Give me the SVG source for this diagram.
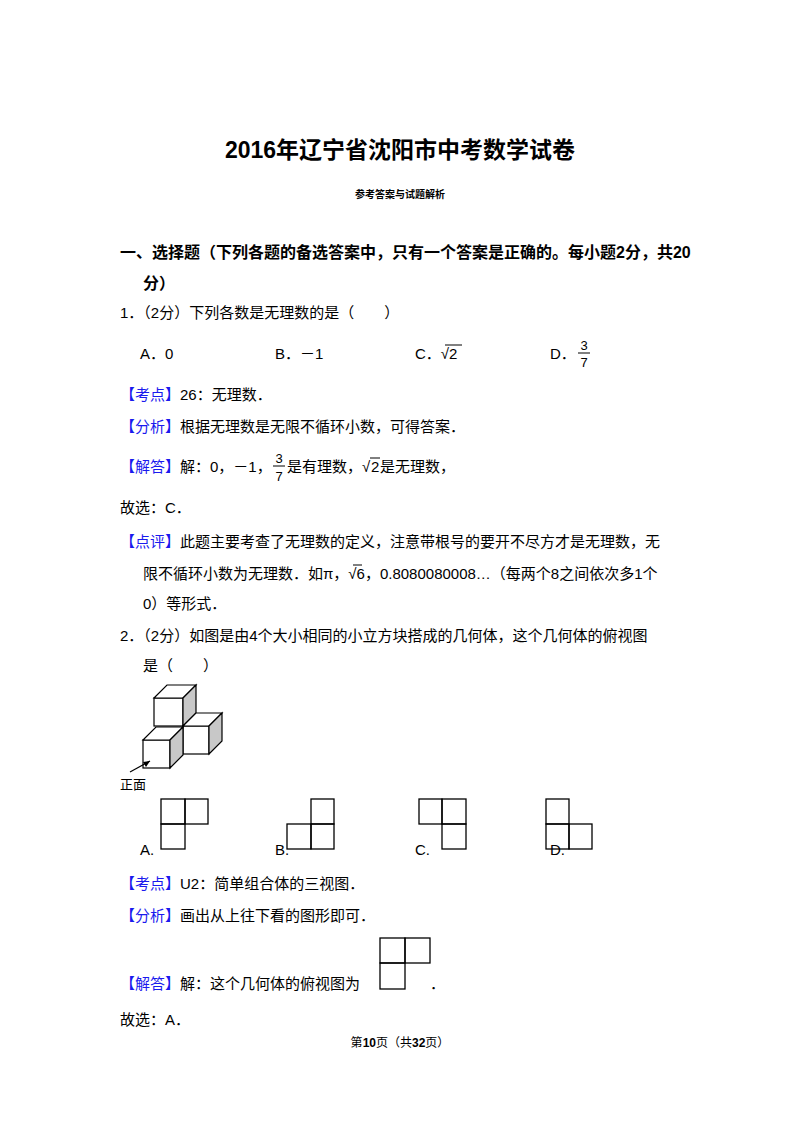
<svg xmlns="http://www.w3.org/2000/svg" width="800" height="1132" viewBox="0 0 800 1132">
<style>
text{font-family:"Liberation Sans","Noto Sans CJK SC",sans-serif;fill:#000}
.t{font-size:15px}
.b{fill:#1a1aee}
.f{fill:none;stroke:#000;stroke-width:1.3}
.sh{fill:#c8c8c8;stroke:#000;stroke-width:1.2}
.w{fill:#fff;stroke:#000;stroke-width:1.2}
</style>
<rect width="800" height="1132" fill="#fff"/>
<text x="400" y="158" font-size="23" font-weight="bold" text-anchor="middle">2016年辽宁省沈阳市中考数学试卷</text>
<text x="400" y="198" font-size="10" font-weight="bold" text-anchor="middle">参考答案与试题解析</text>
<text x="120" y="258" font-size="16" font-weight="bold">一、选择题（下列各题的备选答案中，只有一个答案是正确的。每小题2分，共20</text>
<text x="143" y="289" font-size="16" font-weight="bold">分）</text>
<text class="t" x="120" y="318">1．（2分）下列各数是无理数的是（　　）</text>
<text class="t" x="140" y="359">A．0</text>
<text class="t" x="275" y="359">B．－1</text>
<text class="t" x="415" y="359">C．√2</text>
<line x1="445" y1="345" x2="462" y2="345" stroke="#000"/>
<text class="t" x="550" y="359">D．</text>
<text x="584" y="350" font-size="13" text-anchor="middle">3</text>
<line x1="578" y1="353" x2="590" y2="353" stroke="#000"/>
<text x="584" y="367" font-size="13" text-anchor="middle">7</text>
<text class="t" x="120" y="400"><tspan class="b">【考点】</tspan>26：无理数．</text>
<text class="t" x="120" y="432"><tspan class="b">【分析】</tspan>根据无理数是无限不循环小数，可得答案．</text>
<text class="t" x="120" y="472"><tspan class="b">【解答】</tspan>解：0，－1，</text>
<text x="279" y="463" font-size="13" text-anchor="middle">3</text>
<line x1="273" y1="466" x2="285" y2="466" stroke="#000"/>
<text x="279" y="481" font-size="13" text-anchor="middle">7</text>
<text class="t" x="287" y="472">是有理数，</text>
<text class="t" x="362" y="472">√</text>
<text class="t" x="371" y="472">2</text>
<line x1="370" y1="458" x2="380" y2="458" stroke="#000"/>
<text class="t" x="380" y="472">是无理数，</text>
<text class="t" x="120" y="513">故选：C．</text>
<text class="t" x="120" y="547"><tspan class="b">【点评】</tspan>此题主要考查了无理数的定义，注意带根号的要开不尽方才是无理数，无</text>
<text class="t" x="143" y="579">限不循环小数为无理数．如π，√6，0.8080080008…（每两个8之间依次多1个</text>
<line x1="353" y1="565" x2="362" y2="565" stroke="#000"/>
<text class="t" x="143" y="609">0）等形式．</text>
<text class="t" x="120" y="641">2．（2分）如图是由4个大小相同的小立方块搭成的几何体，这个几何体的俯视图</text>
<text class="t" x="143" y="671">是（　　）</text>
<g id="cubes">
<rect class="w" x="154" y="698" width="29" height="28"/>
<polygon class="w" points="154,698 167,685 196,685 183,698"/>
<polygon class="sh" points="183,698 196,685 196,713 183,726"/>
<rect class="w" x="183" y="726" width="26" height="28"/>
<polygon class="w" points="183,726 196,713 222,713 209,726"/>
<polygon class="sh" points="209,726 222,713 222,741 209,754"/>
<rect class="w" x="143" y="740" width="27" height="28"/>
<polygon class="w" points="143,740 156,727 183,727 170,740"/>
<polygon class="sh" points="170,740 183,727 183,755 170,768"/>
<line x1="130" y1="772" x2="150" y2="761" stroke="#000" stroke-width="1.2"/>
<polygon points="150,761 143,762 146,767" fill="#000"/>
<text x="120" y="789" font-size="13">正面</text>
</g>
<g id="optA" class="f">
<rect x="161" y="799" width="24" height="25"/><rect x="185" y="799" width="23" height="25"/><rect x="161" y="824" width="24" height="25"/>
</g>
<g id="optB" class="f">
<rect x="311" y="799" width="23" height="25"/><rect x="287" y="824" width="24" height="25"/><rect x="311" y="824" width="23" height="25"/>
</g>
<g id="optC" class="f">
<rect x="419" y="799" width="23" height="25"/><rect x="442" y="799" width="24" height="25"/><rect x="442" y="824" width="24" height="25"/>
</g>
<g id="optD" class="f">
<rect x="546" y="799" width="23" height="25"/><rect x="546" y="824" width="23" height="25"/><rect x="569" y="824" width="23" height="25"/>
</g>
<text class="t" x="140" y="855">A.</text>
<text class="t" x="275" y="855">B.</text>
<text class="t" x="415" y="855">C.</text>
<text class="t" x="550" y="855">D.</text>
<text class="t" x="120" y="889"><tspan class="b">【考点】</tspan>U2：简单组合体的三视图．</text>
<text class="t" x="120" y="921"><tspan class="b">【分析】</tspan>画出从上往下看的图形即可．</text>
<text class="t" x="120" y="989"><tspan class="b">【解答】</tspan>解：这个几何体的俯视图为</text>
<g id="ans" class="f">
<rect x="380" y="938" width="25" height="25"/><rect x="405" y="938" width="25" height="25"/><rect x="380" y="963" width="25" height="26"/>
</g>
<text class="t" x="430" y="989">．</text>
<text class="t" x="120" y="1025">故选：A．</text>
<text x="400" y="1047" font-size="12" text-anchor="middle">第<tspan font-weight="bold">10</tspan>页（共<tspan font-weight="bold">32</tspan>页）</text>
</svg>
